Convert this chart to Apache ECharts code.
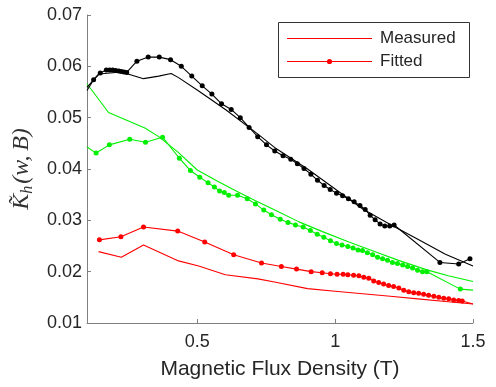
<!DOCTYPE html>
<html><head><meta charset="utf-8">
<script src="https://cdn.jsdelivr.net/npm/echarts@6/dist/echarts.min.js"></script>
<style>html,body{margin:0;padding:0;background:#fff}#c{width:496px;height:387px}</style>
</head><body><div id="c"></div>
<script>
const xTicks = [0.5, 1, 1.5];
const yTicks = [0.01, 0.02, 0.03, 0.04, 0.05, 0.06, 0.07];
const legendLabels = ['Measured', 'Fitted'];

const blackMeasX = [0.1,0.142,0.2245,0.305,0.36,0.405,0.432,0.505,0.602,0.72,0.78,0.9,1.0,1.1,1.2,1.3,1.4,1.5];
const blackMeasY = [0.0559,0.0585,0.0589,0.0576,0.0581,0.0586,0.0578,0.0552,0.0516,0.0468,0.0442,0.0400,0.0361,0.0322,0.0292,0.0263,0.0234,0.0211];

const blackFitX = [0.1,0.124,0.148,0.170,0.182,0.193,0.204,0.215,0.224,0.234,0.244,0.281,0.322,0.362,0.403,0.442,0.480,0.518,0.553,0.588,0.623,0.656,0.688,0.719,0.751,0.781,0.811,0.839,0.863,0.887,0.912,0.936,0.960,0.982,1.005,1.027,1.048,1.069,1.090,1.109,1.127,1.145,1.163,1.180,1.198,1.214,1.380,1.448,1.489];
const blackFitY = [0.0553,0.0574,0.0587,0.0593,0.0593,0.0593,0.0592,0.0591,0.0590,0.0589,0.0588,0.0610,0.0618,0.0618,0.0613,0.0600,0.0581,0.0562,0.0546,0.0527,0.0516,0.0500,0.0481,0.0463,0.0447,0.0435,0.0426,0.0419,0.0410,0.0401,0.0390,0.0378,0.0368,0.0360,0.0353,0.0348,0.0342,0.0336,0.0329,0.0321,0.0310,0.0301,0.0293,0.0289,0.0289,0.0291,0.0218,0.0215,0.0225];

const greenMeasX = [0.1,0.178,0.31,0.36,0.43,0.5,0.567,0.627,0.7,0.785,0.869,0.954,1.05,1.15,1.23,1.33,1.41,1.5];
const greenMeasY = [0.0566,0.0510,0.0480,0.0463,0.0433,0.0398,0.0378,0.0361,0.0341,0.0319,0.0297,0.0278,0.0258,0.0238,0.0222,0.0204,0.0192,0.0181];

const greenFitX = [0.1,0.133,0.181,0.255,0.312,0.374,0.435,0.475,0.509,0.539,0.562,0.581,0.598,0.614,0.646,0.681,0.711,0.741,0.769,0.801,0.829,0.856,0.884,0.910,0.935,0.959,0.983,1.005,1.025,1.046,1.065,1.083,1.099,1.117,1.136,1.154,1.172,1.190,1.208,1.226,1.245,1.263,1.281,1.299,1.317,1.333,1.454,1.5];
const greenFitY = [0.0443,0.0431,0.0447,0.0458,0.0452,0.0462,0.0421,0.0397,0.0384,0.0373,0.0365,0.0357,0.0354,0.0349,0.0349,0.0342,0.0332,0.0320,0.0311,0.0302,0.0296,0.0291,0.0287,0.0280,0.0273,0.0267,0.0260,0.0255,0.0252,0.0249,0.0246,0.0242,0.0241,0.0237,0.0233,0.0228,0.0225,0.0222,0.0218,0.0216,0.0213,0.0210,0.0207,0.0203,0.0200,0.0200,0.0166,0.0164];

const redMeasX = [0.142,0.2245,0.305,0.432,0.505,0.602,0.72,0.78,0.9,1.0,1.1,1.2,1.3,1.4,1.5];
const redMeasY = [0.0239,0.0228,0.0252,0.0221,0.0211,0.0194,0.0186,0.0180,0.0167,0.0162,0.0157,0.0152,0.0147,0.0142,0.0137];

const redFitX = [0.145,0.223,0.305,0.429,0.527,0.632,0.733,0.805,0.86,0.913,0.953,0.983,1.007,1.029,1.046,1.067,1.086,1.104,1.122,1.14,1.158,1.176,1.194,1.212,1.231,1.249,1.267,1.285,1.303,1.321,1.339,1.358,1.376,1.394,1.412,1.43,1.448,1.461,1.5];
const redFitY = [0.0262,0.0268,0.0287,0.0279,0.0258,0.0233,0.0217,0.0210,0.0205,0.0200,0.0198,0.0196,0.0195,0.0195,0.0194,0.0193,0.0192,0.0189,0.0187,0.0182,0.0179,0.0176,0.0173,0.0171,0.0168,0.0164,0.0161,0.0159,0.0158,0.0156,0.0154,0.0152,0.0150,0.0148,0.0147,0.0145,0.0144,0.0143,0.0137];

const X_MIN = 0.1, X_MAX = 1.5;
function pts(xs, ys) {
  return xs.map((x, i) => {
    const v = [x, ys[i]];
    return (x <= X_MIN || x >= X_MAX) ? { value: v, symbol: 'none' } : v;
  });
}
function mk(name, color, xs, ys, markers) {
  return {
    name, type: 'line', data: pts(xs, ys),
    symbol: markers ? 'circle' : 'none', symbolSize: 5, showSymbol: markers, showAllSymbol: true,
    lineStyle: { color, width: 1.1 }, itemStyle: { color },
    emphasis: { disabled: true }, clip: true, z: 2
  };
}
const FONT = 'Liberation Sans, Arial, sans-serif';
const AX = '#808080', TX = '#262626';
const RED = '#ff0000', GREEN = '#00f000', BLACK = '#000000';

// Legend box drawn as graphic elements (box, sample lines, marker, real text labels)
const LG = { x: 278.5, y: 22.5, w: 191, h: 55, lineX0: 287, lineX1: 372, textX: 380, rows: [38.5, 61.5] };
const legendGraphics = [
  { type: 'rect', z: 100, shape: { x: LG.x, y: LG.y, width: LG.w, height: LG.h },
    style: { fill: '#fff', stroke: '#333', lineWidth: 1 } },
  { type: 'line', z: 101, shape: { x1: LG.lineX0, y1: LG.rows[0], x2: LG.lineX1, y2: LG.rows[0] },
    style: { stroke: RED, lineWidth: 1.1 } },
  { type: 'line', z: 101, shape: { x1: LG.lineX0, y1: LG.rows[1], x2: LG.lineX1, y2: LG.rows[1] },
    style: { stroke: RED, lineWidth: 1.1 } },
  { type: 'circle', z: 102, shape: { cx: (LG.lineX0 + LG.lineX1) / 2, cy: LG.rows[1], r: 2.6 },
    style: { fill: RED } },
  { type: 'text', z: 101, x: LG.textX, y: LG.rows[0],
    style: { text: legendLabels[0], fill: TX, font: '17px ' + FONT, verticalAlign: 'middle', align: 'left' } },
  { type: 'text', z: 101, x: LG.textX, y: LG.rows[1],
    style: { text: legendLabels[1], fill: TX, font: '17px ' + FONT, verticalAlign: 'middle', align: 'left' } }
];

const chart = echarts.init(document.getElementById('c'), null, { renderer: 'canvas' });
chart.setOption({
  animation: false,
  backgroundColor: '#fff',
  grid: { left: 87, right: 23, top: 15, bottom: 64, containLabel: false },
  graphic: { elements: legendGraphics },
  xAxis: {
    type: 'value', min: X_MIN, max: X_MAX,
    axisLine: { show: true, onZero: false, lineStyle: { color: AX, width: 1 } },
    axisTick: { show: true, inside: true, length: 4, customValues: xTicks, lineStyle: { color: AX } },
    axisLabel: { customValues: xTicks, color: TX, fontSize: 18, fontFamily: FONT, margin: 10, formatter: v => String(v) },
    splitLine: { show: false },
    name: 'Magnetic Flux Density (T)', nameLocation: 'middle', nameGap: 36,
    nameTextStyle: { fontSize: 21, color: TX, fontFamily: FONT }
  },
  yAxis: {
    type: 'value', min: yTicks[0], max: yTicks[yTicks.length - 1], interval: 0.01,
    axisLine: { show: true, onZero: false, lineStyle: { color: AX, width: 1 } },
    axisTick: { show: true, inside: true, length: 4, lineStyle: { color: AX } },
    axisLabel: { color: TX, fontSize: 18, fontFamily: FONT, margin: 5, formatter: v => v.toFixed(2) },
    splitLine: { show: false },
    name: '{k|K\u0303}{h|h}{r|(w,\u2009B)}', nameLocation: 'middle', nameRotate: 90, nameGap: 47,
    nameTextStyle: {
      color: '#333',
      rich: {
        k: { fontFamily: 'Liberation Serif', fontStyle: 'italic', fontSize: 24, lineHeight: 28, verticalAlign: 'middle' },
        h: { fontFamily: 'Liberation Serif', fontStyle: 'italic', fontSize: 16, lineHeight: 28, verticalAlign: 'bottom', padding: [0, 2, 0, 0] },
        r: { fontFamily: 'Liberation Serif', fontStyle: 'italic', fontSize: 24, lineHeight: 28, verticalAlign: 'middle' }
      }
    }
  },
  series: [
    mk('Measured', RED, redMeasX, redMeasY, false),
    mk('Fitted', RED, redFitX, redFitY, true),
    mk('Measured G', GREEN, greenMeasX, greenMeasY, false),
    mk('Fitted G', GREEN, greenFitX, greenFitY, true),
    mk('Measured K', BLACK, blackMeasX, blackMeasY, false),
    mk('Fitted K', BLACK, blackFitX, blackFitY, true)
  ]
});
</script></body></html>
